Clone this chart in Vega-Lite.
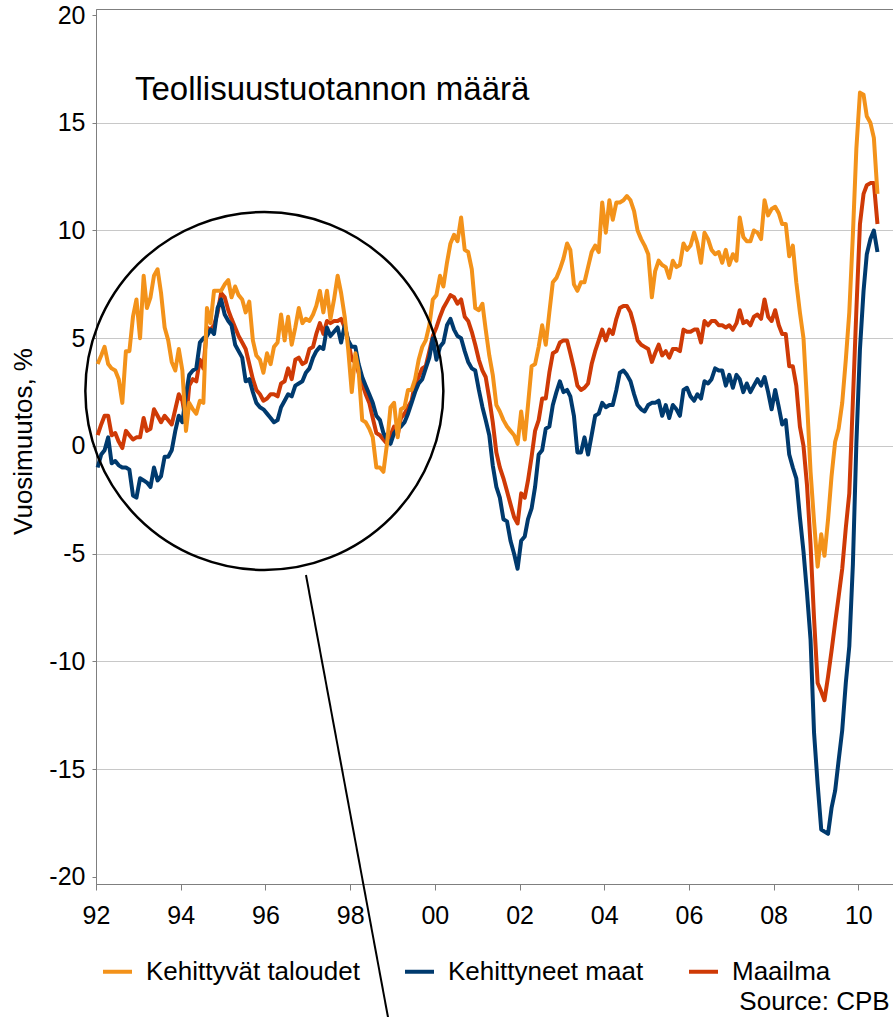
{
"$schema": "https://vega.github.io/schema/vega-lite/v6.json",
"width": 797, "height": 875,
"autosize": {"type": "none"},
"padding": {"left": 96, "top": 9, "right": 0, "bottom": 133},
"background": "white",
"config": {
  "view": {"stroke": "#7f7f7f", "strokeWidth": 1},
  "font": "Liberation Sans",
  "axis": {"labelFont": "Liberation Sans", "titleFont": "Liberation Sans", "labelColor": "black", "titleColor": "black", "domainColor": "#7f7f7f", "tickColor": "#7f7f7f", "gridColor": "#c8c8c8", "gridWidth": 1.2}
},
"layer": [
{
  "data": {"values": [
{"t":"1992-01-15","a":3.8,"b":-1.0,"c":0.5},{"t":"1992-02-15","a":4.2,"b":-0.4,"c":1.0},{"t":"1992-03-15","a":4.6,"b":-0.2,"c":1.4},{"t":"1992-04-15","a":3.8,"b":0.4,"c":1.4},{"t":"1992-05-15","a":3.6,"b":-0.8,"c":0.5},{"t":"1992-06-15","a":3.5,"b":-0.7,"c":0.6},{"t":"1992-07-15","a":3.1,"b":-0.9,"c":0.2},{"t":"1992-08-15","a":2.0,"b":-1.0,"c":-0.1},{"t":"1992-09-15","a":4.4,"b":-1.0,"c":0.7},{"t":"1992-10-15","a":4.4,"b":-1.1,"c":0.5},{"t":"1992-11-15","a":6.0,"b":-2.3,"c":0.3},{"t":"1992-12-15","a":6.8,"b":-2.4,"c":0.4},
{"t":"1993-01-15","a":5.0,"b":-1.5,"c":0.4},{"t":"1993-02-15","a":7.9,"b":-1.6,"c":1.3},{"t":"1993-03-15","a":6.4,"b":-1.7,"c":0.7},{"t":"1993-04-15","a":6.9,"b":-1.9,"c":0.8},{"t":"1993-05-15","a":7.9,"b":-1.0,"c":1.7},{"t":"1993-06-15","a":8.2,"b":-1.6,"c":1.4},{"t":"1993-07-15","a":7.1,"b":-1.4,"c":1.1},{"t":"1993-08-15","a":5.5,"b":-0.5,"c":1.4},{"t":"1993-09-15","a":4.9,"b":-0.5,"c":1.2},{"t":"1993-10-15","a":3.9,"b":-0.2,"c":1.0},{"t":"1993-11-15","a":3.5,"b":0.7,"c":1.7},{"t":"1993-12-15","a":4.5,"b":1.4,"c":2.4},
{"t":"1994-01-15","a":3.5,"b":1.1,"c":2.1},{"t":"1994-02-15","a":0.7,"b":2.4,"c":1.1},{"t":"1994-03-15","a":2.0,"b":3.3,"c":2.8},{"t":"1994-04-15","a":1.7,"b":3.5,"c":3.1},{"t":"1994-05-15","a":1.5,"b":3.6,"c":3.0},{"t":"1994-06-15","a":2.1,"b":4.8,"c":4.0},{"t":"1994-07-15","a":2.0,"b":5.0,"c":3.6},{"t":"1994-08-15","a":6.4,"b":5.1,"c":5.5},{"t":"1994-09-15","a":5.7,"b":5.4,"c":5.4},{"t":"1994-10-15","a":7.2,"b":5.2,"c":5.6},{"t":"1994-11-15","a":7.2,"b":6.4,"c":6.2},{"t":"1994-12-15","a":7.2,"b":6.8,"c":7.1},
{"t":"1995-01-15","a":7.5,"b":6.1,"c":6.9},{"t":"1995-02-15","a":7.7,"b":5.8,"c":6.3},{"t":"1995-03-15","a":6.9,"b":5.6,"c":5.9},{"t":"1995-04-15","a":7.4,"b":4.7,"c":5.5},{"t":"1995-05-15","a":7.0,"b":4.4,"c":5.1},{"t":"1995-06-15","a":6.8,"b":4.1,"c":4.8},{"t":"1995-07-15","a":6.2,"b":3.0,"c":4.5},{"t":"1995-08-15","a":6.7,"b":3.1,"c":3.8},{"t":"1995-09-15","a":4.9,"b":2.5,"c":3.1},{"t":"1995-10-15","a":4.2,"b":2.0,"c":2.6},{"t":"1995-11-15","a":4.0,"b":1.8,"c":2.4},{"t":"1995-12-15","a":3.4,"b":1.7,"c":2.1},
{"t":"1996-01-15","a":4.3,"b":1.5,"c":2.2},{"t":"1996-02-15","a":3.8,"b":1.3,"c":2.4},{"t":"1996-03-15","a":4.6,"b":1.1,"c":2.4},{"t":"1996-04-15","a":4.8,"b":1.2,"c":2.3},{"t":"1996-05-15","a":6.1,"b":1.8,"c":2.9},{"t":"1996-06-15","a":4.9,"b":2.1,"c":3.0},{"t":"1996-07-15","a":6.0,"b":2.4,"c":3.6},{"t":"1996-08-15","a":4.7,"b":2.3,"c":3.1},{"t":"1996-09-15","a":5.5,"b":2.8,"c":4.0},{"t":"1996-10-15","a":6.4,"b":2.9,"c":4.1},{"t":"1996-11-15","a":5.7,"b":3.0,"c":3.8},{"t":"1996-12-15","a":5.9,"b":3.4,"c":3.9},
{"t":"1997-01-15","a":5.8,"b":3.6,"c":4.5},{"t":"1997-02-15","a":6.1,"b":4.1,"c":4.6},{"t":"1997-03-15","a":6.5,"b":4.4,"c":5.2},{"t":"1997-04-15","a":7.2,"b":4.6,"c":5.7},{"t":"1997-05-15","a":6.2,"b":4.5,"c":5.2},{"t":"1997-06-15","a":7.2,"b":5.5,"c":5.8},{"t":"1997-07-15","a":5.9,"b":5.1,"c":5.7},{"t":"1997-08-15","a":6.8,"b":5.3,"c":5.8},{"t":"1997-09-15","a":7.9,"b":5.5,"c":5.8},{"t":"1997-10-15","a":7.1,"b":4.8,"c":5.9},{"t":"1997-11-15","a":6.0,"b":5.6,"c":5.5},{"t":"1997-12-15","a":4.5,"b":4.9,"c":4.9},
{"t":"1998-01-15","a":2.5,"b":4.6,"c":4.0},{"t":"1998-02-15","a":4.3,"b":4.6,"c":3.9},{"t":"1998-03-15","a":3.5,"b":3.8,"c":3.4},{"t":"1998-04-15","a":1.2,"b":3.2,"c":2.9},{"t":"1998-05-15","a":1.1,"b":2.8,"c":2.4},{"t":"1998-06-15","a":0.8,"b":2.4,"c":2.0},{"t":"1998-07-15","a":0.4,"b":2.0,"c":1.3},{"t":"1998-08-15","a":-1.0,"b":1.4,"c":0.6},{"t":"1998-09-15","a":-1.0,"b":1.2,"c":0.5},{"t":"1998-10-15","a":-1.2,"b":0.6,"c":0.3},{"t":"1998-11-15","a":0.1,"b":0.3,"c":0.1},{"t":"1998-12-15","a":1.8,"b":0.1,"c":0.5},
{"t":"1999-01-15","a":2.0,"b":0.6,"c":0.9},{"t":"1999-02-15","a":0.4,"b":0.8,"c":0.5},{"t":"1999-03-15","a":1.7,"b":0.9,"c":1.3},{"t":"1999-04-15","a":1.8,"b":1.1,"c":1.5},{"t":"1999-05-15","a":2.6,"b":1.5,"c":1.8},{"t":"1999-06-15","a":2.6,"b":2.0,"c":2.1},{"t":"1999-07-15","a":3.1,"b":2.5,"c":2.9},{"t":"1999-08-15","a":4.0,"b":2.9,"c":3.2},{"t":"1999-09-15","a":4.6,"b":3.1,"c":3.6},{"t":"1999-10-15","a":4.9,"b":3.6,"c":3.7},{"t":"1999-11-15","a":5.6,"b":4.1,"c":4.4},{"t":"1999-12-15","a":6.8,"b":5.0,"c":5.1},
{"t":"2000-01-15","a":7.0,"b":4.0,"c":5.5},{"t":"2000-02-15","a":7.9,"b":4.6,"c":6.0},{"t":"2000-03-15","a":7.4,"b":4.8,"c":6.4},{"t":"2000-04-15","a":8.5,"b":5.6,"c":6.7},{"t":"2000-05-15","a":9.4,"b":5.9,"c":7.0},{"t":"2000-06-15","a":9.8,"b":5.4,"c":6.9},{"t":"2000-07-15","a":9.5,"b":5.1,"c":6.6},{"t":"2000-08-15","a":10.6,"b":5.0,"c":6.8},{"t":"2000-09-15","a":9.1,"b":4.4,"c":6.0},{"t":"2000-10-15","a":9.0,"b":3.9,"c":5.8},{"t":"2000-11-15","a":8.2,"b":3.6,"c":5.3},{"t":"2000-12-15","a":6.4,"b":3.5,"c":4.7},
{"t":"2001-01-15","a":6.3,"b":2.6,"c":4.0},{"t":"2001-02-15","a":6.6,"b":1.8,"c":3.5},{"t":"2001-03-15","a":5.4,"b":1.2,"c":3.2},{"t":"2001-04-15","a":4.2,"b":0.5,"c":2.2},{"t":"2001-05-15","a":3.3,"b":-0.9,"c":1.1},{"t":"2001-06-15","a":1.9,"b":-1.9,"c":-0.3},{"t":"2001-07-15","a":1.6,"b":-2.4,"c":-1.0},{"t":"2001-08-15","a":1.2,"b":-3.4,"c":-1.5},{"t":"2001-09-15","a":0.9,"b":-3.5,"c":-2.1},{"t":"2001-10-15","a":0.7,"b":-4.4,"c":-2.7},{"t":"2001-11-15","a":0.5,"b":-5.0,"c":-3.3},{"t":"2001-12-15","a":0.1,"b":-5.7,"c":-3.6},
{"t":"2002-01-15","a":1.6,"b":-4.4,"c":-2.2},{"t":"2002-02-15","a":0.3,"b":-4.2,"c":-2.4},{"t":"2002-03-15","a":1.9,"b":-3.4,"c":-1.6},{"t":"2002-04-15","a":3.7,"b":-2.9,"c":-0.5},{"t":"2002-05-15","a":3.8,"b":-1.9,"c":0.7},{"t":"2002-06-15","a":4.6,"b":-0.4,"c":1.2},{"t":"2002-07-15","a":5.6,"b":-0.2,"c":2.2},{"t":"2002-08-15","a":4.7,"b":0.8,"c":2.2},{"t":"2002-09-15","a":6.2,"b":0.9,"c":3.4},{"t":"2002-10-15","a":7.6,"b":1.9,"c":4.3},{"t":"2002-11-15","a":7.8,"b":2.5,"c":4.4},{"t":"2002-12-15","a":8.2,"b":3.0,"c":4.8},
{"t":"2003-01-15","a":8.7,"b":2.5,"c":4.9},{"t":"2003-02-15","a":9.4,"b":2.6,"c":4.9},{"t":"2003-03-15","a":9.1,"b":2.3,"c":4.3},{"t":"2003-04-15","a":7.5,"b":1.4,"c":3.6},{"t":"2003-05-15","a":7.2,"b":-0.3,"c":2.8},{"t":"2003-06-15","a":7.6,"b":-0.3,"c":2.6},{"t":"2003-07-15","a":7.6,"b":0.4,"c":2.7},{"t":"2003-08-15","a":8.3,"b":-0.4,"c":2.9},{"t":"2003-09-15","a":9.0,"b":0.5,"c":3.8},{"t":"2003-10-15","a":9.3,"b":1.4,"c":4.4},{"t":"2003-11-15","a":9.0,"b":1.5,"c":4.9},{"t":"2003-12-15","a":11.3,"b":2.0,"c":5.4},
{"t":"2004-01-15","a":9.9,"b":1.8,"c":4.9},{"t":"2004-02-15","a":11.4,"b":1.9,"c":5.4},{"t":"2004-03-15","a":10.5,"b":1.9,"c":5.2},{"t":"2004-04-15","a":11.3,"b":2.6,"c":5.9},{"t":"2004-05-15","a":11.3,"b":3.4,"c":6.4},{"t":"2004-06-15","a":11.4,"b":3.5,"c":6.5},{"t":"2004-07-15","a":11.6,"b":3.3,"c":6.5},{"t":"2004-08-15","a":11.4,"b":3.0,"c":6.2},{"t":"2004-09-15","a":10.9,"b":2.4,"c":5.6},{"t":"2004-10-15","a":10.0,"b":1.9,"c":4.9},{"t":"2004-11-15","a":9.6,"b":1.7,"c":4.7},{"t":"2004-12-15","a":9.3,"b":1.6,"c":4.6},
{"t":"2005-01-15","a":8.9,"b":1.9,"c":4.5},{"t":"2005-02-15","a":6.9,"b":2.0,"c":3.9},{"t":"2005-03-15","a":8.1,"b":2.0,"c":4.3},{"t":"2005-04-15","a":8.6,"b":2.1,"c":4.7},{"t":"2005-05-15","a":8.4,"b":1.4,"c":4.2},{"t":"2005-06-15","a":8.3,"b":1.9,"c":4.4},{"t":"2005-07-15","a":7.8,"b":1.3,"c":4.1},{"t":"2005-08-15","a":8.6,"b":1.9,"c":4.5},{"t":"2005-09-15","a":8.3,"b":1.7,"c":4.5},{"t":"2005-10-15","a":8.4,"b":1.4,"c":4.4},{"t":"2005-11-15","a":9.4,"b":2.6,"c":5.4},{"t":"2005-12-15","a":9.1,"b":2.7,"c":5.3},
{"t":"2006-01-15","a":9.3,"b":2.3,"c":5.3},{"t":"2006-02-15","a":9.9,"b":2.1,"c":5.4},{"t":"2006-03-15","a":9.4,"b":2.4,"c":5.4},{"t":"2006-04-15","a":8.5,"b":2.2,"c":4.8},{"t":"2006-05-15","a":9.9,"b":3.0,"c":5.8},{"t":"2006-06-15","a":9.6,"b":2.9,"c":5.6},{"t":"2006-07-15","a":9.1,"b":3.1,"c":5.8},{"t":"2006-08-15","a":8.9,"b":3.6,"c":5.8},{"t":"2006-09-15","a":9.0,"b":3.5,"c":5.6},{"t":"2006-10-15","a":8.5,"b":3.5,"c":5.6},{"t":"2006-11-15","a":9.1,"b":2.8,"c":5.5},{"t":"2006-12-15","a":8.4,"b":3.3,"c":5.6},
{"t":"2007-01-15","a":8.9,"b":2.7,"c":5.4},{"t":"2007-02-15","a":8.6,"b":3.3,"c":5.7},{"t":"2007-03-15","a":10.6,"b":3.1,"c":6.3},{"t":"2007-04-15","a":9.7,"b":2.5,"c":5.7},{"t":"2007-05-15","a":9.5,"b":2.9,"c":5.8},{"t":"2007-06-15","a":9.5,"b":2.5,"c":5.6},{"t":"2007-07-15","a":10.0,"b":2.8,"c":6.0},{"t":"2007-08-15","a":9.9,"b":3.1,"c":6.1},{"t":"2007-09-15","a":9.6,"b":2.8,"c":5.9},{"t":"2007-10-15","a":11.4,"b":3.2,"c":6.8},{"t":"2007-11-15","a":10.7,"b":2.5,"c":6.0},{"t":"2007-12-15","a":11.0,"b":1.7,"c":5.8},
{"t":"2008-01-15","a":11.1,"b":2.6,"c":6.3},{"t":"2008-02-15","a":10.8,"b":1.8,"c":5.6},{"t":"2008-03-15","a":10.3,"b":1.0,"c":5.2},{"t":"2008-04-15","a":10.3,"b":1.2,"c":5.2},{"t":"2008-05-15","a":8.8,"b":-0.4,"c":3.7},{"t":"2008-06-15","a":9.3,"b":-1.0,"c":3.7},{"t":"2008-07-15","a":7.6,"b":-1.5,"c":2.8},{"t":"2008-08-15","a":6.2,"b":-3.3,"c":0.9},{"t":"2008-09-15","a":5.0,"b":-4.9,"c":0.0},{"t":"2008-10-15","a":2.1,"b":-6.8,"c":-1.8},{"t":"2008-11-15","a":-1.2,"b":-9.0,"c":-4.6},{"t":"2008-12-15","a":-3.5,"b":-13.3,"c":-8.0},
{"t":"2009-01-15","a":-5.6,"b":-15.7,"c":-11.0},{"t":"2009-02-15","a":-4.1,"b":-17.8,"c":-11.4},{"t":"2009-03-15","a":-5.1,"b":-17.9,"c":-11.8},{"t":"2009-04-15","a":-3.4,"b":-18.0,"c":-10.7},{"t":"2009-05-15","a":-1.4,"b":-16.8,"c":-9.5},{"t":"2009-06-15","a":0.2,"b":-16.0,"c":-8.2},{"t":"2009-07-15","a":0.8,"b":-14.6,"c":-7.0},{"t":"2009-08-15","a":2.0,"b":-13.2,"c":-5.7},{"t":"2009-09-15","a":4.0,"b":-11.0,"c":-3.8},{"t":"2009-10-15","a":6.2,"b":-9.3,"c":-2.2},{"t":"2009-11-15","a":9.8,"b":-5.5,"c":2.1},{"t":"2009-12-15","a":13.8,"b":0.1,"c":6.3},
{"t":"2010-01-15","a":16.4,"b":4.5,"c":10.3},{"t":"2010-02-15","a":16.3,"b":7.2,"c":11.7},{"t":"2010-03-15","a":15.3,"b":8.9,"c":12.1},{"t":"2010-04-15","a":15.0,"b":9.6,"c":12.2},{"t":"2010-05-15","a":14.3,"b":10.0,"c":12.2},{"t":"2010-06-15","a":11.7,"b":9.0,"c":10.3}
  ]},
  "transform": [{"fold": ["c", "b", "a"], "as": ["s", "v"]}],
  "mark": {"type": "line", "strokeWidth": 4, "strokeJoin": "round"},
  "encoding": {
    "x": {"field": "t", "type": "temporal",
      "scale": {"type": "utc", "nice": false, "domain": [{"year": 1992, "month": 1, "date": 1, "utc": true}, {"year": 2010, "month": 10, "date": 27, "utc": true}]},
      "axis": {"title": null, "format": "%y", "tickCount": {"interval": "year", "step": 2}, "labelFontSize": 25, "tickSize": 6, "labelPadding": 13, "grid": false, "labelFlush": false, "labelOverlap": false}},
    "y": {"field": "v", "type": "quantitative",
      "scale": {"domain": [-20.33, 20.28], "nice": false, "zero": false},
      "axis": {"title": "Vuosimuutos, %", "values": [-20, -15, -10, -5, 0, 5, 10, 15, 20], "labelExpr": "datum.value + ''", "labelFontSize": 25, "tickSize": 4, "labelPadding": 7,
        "titleFontSize": 26, "titleFontWeight": "normal", "titleX": -65, "titleY": 432, "titleAngle": 270, "titleBaseline": "alphabetic", "titleAlign": "center",
        "gridOpacity": {"condition": {"test": "abs(datum.value) == 20", "value": 0}, "value": 1}}},
    "color": {"field": "s", "type": "nominal",
      "scale": {"domain": ["a", "b", "c"], "range": ["#F3921A", "#003A6E", "#CF3A06"]},
      "legend": {"title": null, "orient": "none", "legendX": 5, "legendY": 946, "direction": "horizontal", "symbolType": "stroke", "symbolSize": 841, "symbolStrokeWidth": 4,
        "labelFontSize": 26, "labelFont": "Liberation Sans", "labelColor": "black", "labelOffset": 12, "columnPadding": 37, "padding": 0, "labelLimit": 400,
        "labelExpr": "datum.label == 'a' ? 'Kehittyvät taloudet' : datum.label == 'b' ? 'Kehittyneet maat' : 'Maailma'"}}
  }
},
{
  "data": {"values": [{}]},
  "mark": {"type": "text", "text": "Teollisuustuotannon määrä", "fontSize": 33, "font": "Liberation Sans", "align": "left", "baseline": "alphabetic", "color": "black"},
  "encoding": {
    "x": {"datum": {"year": 1992, "month": 12, "date": 2, "utc": true}, "type": "temporal"},
    "y": {"datum": 16.06, "type": "quantitative"}
  }
},
{
  "data": {"values": [{}]},
  "mark": {"type": "text", "text": "Source: CPB", "fontSize": 26, "font": "Liberation Sans", "align": "right", "baseline": "alphabetic", "color": "black"},
  "encoding": {
    "x": {"datum": {"year": 2010, "month": 9, "date": 28, "utc": true}, "type": "temporal"},
    "y": {"datum": -26.2, "type": "quantitative"}
  }
},
{
  "data": {"values": [{}]},
  "mark": {"type": "point", "shape": "circle", "filled": false, "size": 128164, "stroke": "black", "strokeWidth": 2.5, "opacity": 1},
  "encoding": {
    "x": {"datum": {"year": 1995, "month": 12, "date": 23, "utc": true}, "type": "temporal"},
    "y": {"datum": 2.55, "type": "quantitative"}
  }
},
{
  "data": {"values": [{}]},
  "mark": {"type": "rule", "color": "black", "strokeWidth": 2},
  "encoding": {
    "x": {"datum": {"year": 1996, "month": 12, "date": 16, "utc": true}, "type": "temporal"},
    "y": {"datum": -5.99, "type": "quantitative"},
    "x2": {"datum": {"year": 1998, "month": 11, "date": 30, "utc": true}},
    "y2": {"datum": -26.7}
  }
}
]
}
